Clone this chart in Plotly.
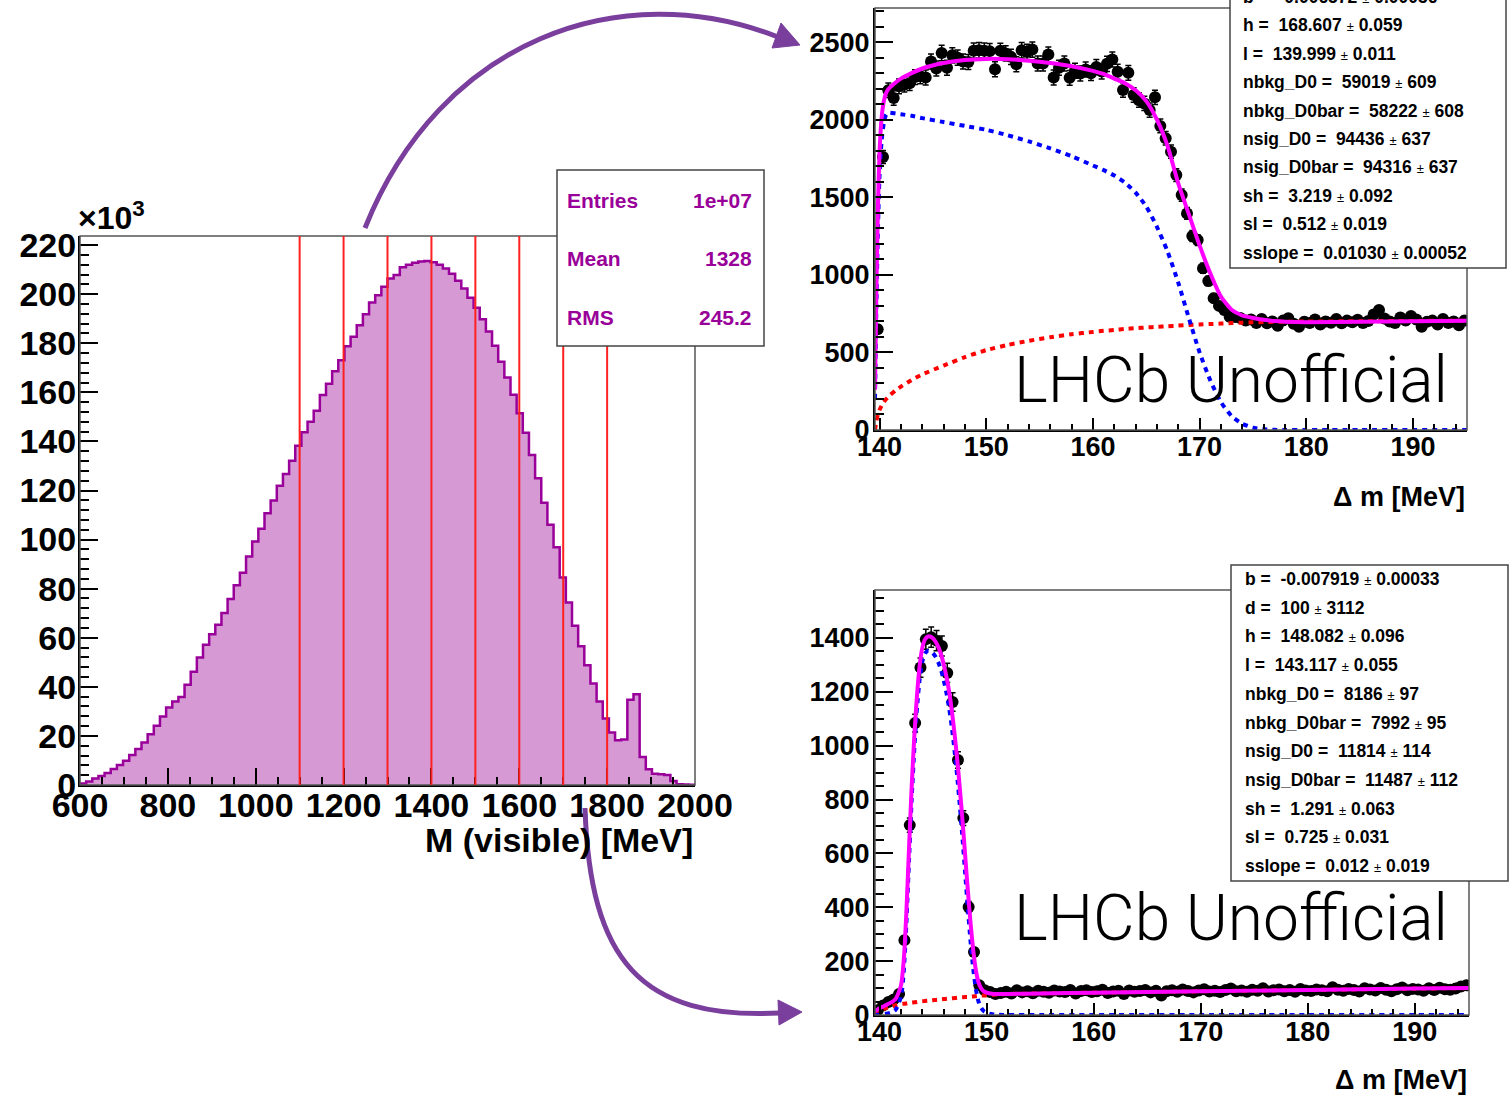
import numpy as np
import plotly.graph_objects as go

W, H = 1510, 1095
FONT = "Liberation Sans"

# ---------------- left histogram: M(visible), 100 bins of 14 MeV, counts in 10^3
m_lo, m_bin = 600, 14
m_counts = [0.6, 1.4, 2.6, 3.7, 4.9, 6.5, 8.2, 9.9, 12.2, 14.7,
            17.3, 20.7, 24.1, 27.9, 31.6, 34.0, 35.9, 40.8, 46.1, 52.0,
            57.1, 61.4, 65.3, 70.1, 75.8, 81.4, 86.5, 93.1, 99.2, 104.4,
            110.7, 115.9, 121.9, 126.7, 132.1, 138.2, 143.7, 148.0, 152.5, 158.9,
            163.5, 168.6, 173.1, 178.8, 182.6, 187.3, 191.8, 196.6, 199.6, 203.0,
            206.4, 207.8, 211.0, 212.0, 212.8, 213.3, 213.5, 213.0, 212.0, 210.5,
            208.3, 205.5, 202.3, 198.5, 194.5, 189.8, 184.8, 179.0, 172.5, 166.0,
            159.0, 151.5, 143.5, 134.5, 125.0, 115.0, 106.0, 96.9, 84.6, 74.4,
            64.9, 56.5, 48.8, 41.4, 34.0, 27.1, 21.4, 18.2, 18.5, 34.7,
            37.0, 11.4, 6.4, 4.6, 4.4, 4.1, 1.6, 0.3, 0.2, 0.1]
cut_lines = [1100, 1200, 1300, 1400, 1500, 1600, 1700, 1800]
hist_stats = [("Entries", "1e+07"), ("Mean", "1328"), ("RMS", "245.2")]

# ---------------- Delta m fits: 111 bins of 0.5 MeV from 139.57
dm_lo, dm_bin, dm_n = 139.57, 0.5, 111

top_data = [650, 1760, 2190, 2140, 2215, 2225, 2235, 2275, 2280, 2272,
            2375, 2330, 2430, 2335, 2415, 2400, 2375, 2372, 2445, 2448,
            2445, 2442, 2325, 2444, 2427, 2405, 2358, 2448, 2437, 2452,
            2362, 2362, 2420, 2272, 2335, 2362, 2270, 2315, 2298, 2324,
            2300, 2340, 2310, 2360, 2388, 2309, 2191, 2302, 2159, 2126,
            2105, 2062, 2144, 1960, 1880, 1794, 1643, 1514, 1396, 1250,
            1224, 1042, 960, 850, 800, 773, 730, 728, 722, 705,
            712, 690, 715, 688, 700, 672, 705, 720, 685, 666,
            698, 690, 712, 680, 700, 692, 715, 688, 705, 695,
            710, 690, 702, 745, 773, 718, 700, 690, 725, 705,
            735, 712, 666, 698, 705, 680, 715, 690, 700, 675, 705]

top_knots = [139.57, 139.7, 139.85, 140.0, 140.2, 140.4, 140.6, 140.8, 141.0, 141.5,
             142, 143, 144, 146, 148, 150, 152, 154, 156, 158,
             160, 161, 162, 163, 164, 165, 166, 167, 168, 169,
             170, 171, 172, 173, 174, 175, 176, 177, 178, 180,
             185, 190, 195.07]
top_total = [260, 900, 1450, 1800, 2020, 2120, 2170, 2195, 2210, 2240,
             2265, 2300, 2330, 2365, 2385, 2392, 2390, 2380, 2365, 2345,
             2315, 2295, 2265, 2235, 2190, 2120, 2000, 1830, 1590, 1390,
             1190, 1010, 860, 775, 738, 722, 710, 702, 698, 695,
             698, 701, 704]
top_sig = [200, 800, 1300, 1650, 1870, 1980, 2030, 2045, 2045, 2040,
           2035, 2025, 2010, 1985, 1960, 1935, 1900, 1860, 1815, 1765,
           1705, 1675, 1640, 1595, 1530, 1440, 1310, 1150, 950, 720,
           500, 320, 180, 90, 40, 15, 5, 1, 0, 0,
           0, 0, 0]
top_bkg = [0, 60, 100, 130, 158, 180, 198, 213, 226, 255,
           280, 322, 358, 415, 470, 515, 548, 575, 598, 617,
           632, 639, 645, 651, 656, 661, 665, 669, 673, 677,
           680, 683, 686, 689, 692, 694, 696, 697, 698, 699,
           701, 703, 705]
top_pars = [("b", "-0.006572", "0.00036"), ("h", "168.607", "0.059"),
            ("l", "139.999", "0.011"), ("nbkg_D0", "59019", "609"),
            ("nbkg_D0bar", "58222", "608"), ("nsig_D0", "94436", "637"),
            ("nsig_D0bar", "94316", "637"), ("sh", "3.219", "0.092"),
            ("sl", "0.512", "0.019"), ("sslope", "0.01030", "0.00052")]

bot_data = [18, 35, 48, 58, 78, 278, 705, 1084, 1290, 1395,
            1403, 1390, 1370, 1270, 1162, 947, 731, 401, 234, 110,
            92, 85, 78, 82, 86, 80, 92, 84, 88, 81,
            90, 86, 83, 91, 87, 85, 93, 80, 89, 92,
            85, 88, 94, 82, 87, 90, 78, 91, 86, 89,
            93, 84, 90, 72, 88, 92, 86, 95, 89, 84,
            91, 96, 87, 90, 85, 93, 98, 88, 91, 86,
            94, 90, 99, 87, 92, 95, 88, 93, 86, 97,
            91, 89, 95, 92, 88, 103, 94, 90, 97, 93,
            87, 99, 95, 91, 100, 94, 88, 96, 102, 92,
            97, 95, 90, 99, 93, 101, 96, 94, 98, 106, 110]

bot_knots = [139.57, 140, 140.5, 141, 141.5, 142, 142.25, 142.5, 142.75, 143,
             143.25, 143.5, 143.75, 144, 144.25, 144.5, 144.75, 145, 145.25, 145.5,
             145.75, 146, 146.25, 146.5, 146.75, 147, 147.25, 147.5, 147.75, 148,
             148.25, 148.5, 148.75, 149, 149.25, 149.5, 149.75, 150, 150.5, 151,
             151.5, 152, 155, 160, 170, 180, 190, 195.07]
bot_total = [15, 25, 35, 45, 60, 110, 200, 380, 620, 850,
             1040, 1190, 1300, 1365, 1395, 1405, 1405, 1398, 1385, 1365,
             1338, 1300, 1255, 1200, 1130, 1045, 950, 840, 720, 590,
             460, 340, 240, 165, 120, 98, 88, 83, 79, 78,
             78, 78, 80, 83, 88, 93, 98, 100]
bot_sig = [0, 2, 4, 8, 20, 68, 158, 337, 575, 804,
           993, 1142, 1250, 1314, 1343, 1352, 1351, 1343, 1329, 1308,
           1280, 1241, 1195, 1139, 1068, 982, 886, 775, 654, 523,
           393, 272, 171, 95, 49, 26, 14, 8, 3, 1,
           0, 0, 0, 0, 0, 0, 0, 0]
bot_bkg = [0, 14, 24, 31, 36, 41, 42, 43, 45, 46,
           47, 48, 50, 51, 52, 53, 54, 55, 56, 57,
           58, 59, 60, 61, 62, 63, 64, 65, 66, 67,
           67, 68, 69, 70, 71, 72, 72, 73, 75, 76,
           77, 78, 80, 83, 88, 93, 98, 100]
bot_pars = [("b", "-0.007919", "0.00033"), ("d", "100", "3112"),
            ("h", "148.082", "0.096"), ("l", "143.117", "0.055"),
            ("nbkg_D0", "8186", "97"), ("nbkg_D0bar", "7992", "95"),
            ("nsig_D0", "11814", "114"), ("nsig_D0bar", "11487", "112"),
            ("sh", "1.291", "0.063"), ("sl", "0.725", "0.031"),
            ("sslope", "0.012", "0.019")]


def px(x):
    return x / W


def py(y):
    return 1 - y / H


fig = go.Figure()

# histogram as a filled step line
m_edges = m_lo + m_bin * np.arange(len(m_counts) + 1)
fig.add_trace(go.Scatter(
    x=m_edges, y=m_counts + [m_counts[-1]], mode='lines', line_shape='hv',
    fill='tozeroy', fillcolor='#D699D4',
    line=dict(color='#99009A', width=2.5), xaxis='x', yaxis='y'))

dm_x = dm_lo + dm_bin / 2 + dm_bin * np.arange(dm_n)


def add_fit(data, knots, total, sig, bkg, xa, ya):
    fig.add_trace(go.Scatter(
        x=dm_x, y=data, mode='markers', xaxis=xa, yaxis=ya,
        marker=dict(color='black', size=12),
        error_y=dict(type='data', array=np.sqrt(data), color='black',
                     thickness=1.5, width=3)))
    fig.add_trace(go.Scatter(x=knots, y=bkg, mode='lines', xaxis=xa, yaxis=ya,
                             line=dict(color='#FF0000', width=4, dash='5px,5px',
                                       shape='spline', smoothing=0.6)))
    fig.add_trace(go.Scatter(x=knots, y=sig, mode='lines', xaxis=xa, yaxis=ya,
                             line=dict(color='#0000FF', width=4, dash='5px,5px',
                                       shape='spline', smoothing=0.6)))
    fig.add_trace(go.Scatter(x=knots, y=total, mode='lines', xaxis=xa, yaxis=ya,
                             line=dict(color='#FF00FF', width=4,
                                       shape='spline', smoothing=0.6)))


add_fit(top_data, top_knots, top_total, top_sig, top_bkg, 'x2', 'y2')
add_fit(bot_data, bot_knots, bot_total, bot_sig, bot_bkg, 'x3', 'y3')


def ax(size, major, minor, dtick, mdtick, standoff, **kw):
    return dict(showline=True, linecolor='black', linewidth=2, ticks='inside',
                ticklen=major, tickwidth=1.5, tickcolor='black', dtick=dtick,
                showgrid=False, zeroline=False, fixedrange=True, automargin=False,
                ticklabelstandoff=standoff,
                tickfont=dict(family=FONT, size=size, color='black', weight='bold'),
                minor=dict(dtick=mdtick, ticks='inside', ticklen=minor,
                           tickwidth=1.5, tickcolor='black', showgrid=False),
                **kw)


fig.update_layout(
    template='none',
    width=W, height=H, margin=dict(l=0, r=0, t=0, b=0, pad=0, autoexpand=False),
    paper_bgcolor='white', plot_bgcolor='white', showlegend=False,
    xaxis=ax(34, 17, 8, 200, 50, -11, range=[600, 2000], tick0=600,
             domain=[px(80), px(695)], anchor='y'),
    yaxis=ax(34, 18, 9, 20, 4, -5, range=[0, 223.7], tick0=0,
             domain=[py(785), py(236)], anchor='x'),
    xaxis2=ax(27, 12, 6, 10, 2, -8, range=[dm_lo, 195.07], tick0=140,
              domain=[px(875), px(1467)], anchor='y2'),
    yaxis2=ax(27, 18, 9, 500, 100, -2, range=[0, 2720], tick0=0,
              domain=[py(430), py(8)], anchor='x2'),
    xaxis3=ax(27, 12, 6, 10, 2, -8, range=[dm_lo, 195.07], tick0=140,
              domain=[px(875), px(1469)], anchor='y3'),
    yaxis3=ax(27, 18, 9, 200, 50, -2, range=[0, 1578], tick0=0,
              domain=[py(1015), py(590)], anchor='x3'),
)

shapes = []
# frames
for xr, yr in [('x', 'y'), ('x2', 'y2'), ('x3', 'y3')]:
    shapes.append(dict(type='rect', xref=xr + ' domain', yref=yr + ' domain',
                       x0=0, x1=1, y0=0, y1=1, line=dict(color='#555555', width=1.5)))
# cut lines on histogram
for c in cut_lines:
    shapes.append(dict(type='line', xref='x', yref='y domain', x0=c, x1=c, y0=0, y1=1,
                       line=dict(color='#FF2020', width=2)))
# stat boxes
for x0, y0, x1, y1 in [(557, 170, 764, 346), (1230, -20, 1506, 268), (1231, 565, 1508, 881)]:
    shapes.append(dict(type='rect', xref='paper', yref='paper',
                       x0=px(x0), x1=px(x1), y0=py(y1), y1=py(y0),
                       fillcolor='white', line=dict(color='#444444', width=1.5)))

# curved arrows
ARROW = '#7A3E9D'


def bez(p):
    (a, b), (c, d), (e, f), (g, h) = p
    return (f"M {px(a)},{py(b)} C {px(c)},{py(d)} {px(e)},{py(f)} {px(g)},{py(h)}")


def tri(p):
    return "M " + " L ".join(f"{px(a)},{py(b)}" for a, b in p) + " Z"


shapes.append(dict(type='path', xref='paper', yref='paper',
                   path=bez([(365, 228), (440, 40), (620, -25), (778, 37)]),
                   line=dict(color=ARROW, width=5)))
shapes.append(dict(type='path', xref='paper', yref='paper',
                   path=tri([(800, 45), (772, 48), (781, 23)]),
                   fillcolor=ARROW, line=dict(color=ARROW, width=1)))
shapes.append(dict(type='path', xref='paper', yref='paper',
                   path=bez([(585, 808), (590, 960), (640, 1020), (780, 1013)]),
                   line=dict(color=ARROW, width=5)))
shapes.append(dict(type='path', xref='paper', yref='paper',
                   path=tri([(802, 1012), (778, 1000), (779, 1025)]),
                   fillcolor=ARROW, line=dict(color=ARROW, width=1)))
fig.update_layout(shapes=shapes)

ann = []


def text(x, y, s, size, anchor='left', color='black', weight='bold', family=FONT):
    ann.append(dict(x=px(x), y=py(y), xref='paper', yref='paper', text=s,
                    showarrow=False, xanchor=anchor, yanchor='middle',
                    font=dict(family=family, size=size, color=color, weight=weight)))


text(76, 216, "×10<sup>3</sup>", 32)
text(695, 840, "M (visible) [MeV]", 34, anchor='right')
for k, (lab, val) in enumerate(hist_stats):
    text(565, 200 + 59 * k, lab, 21, color='#990099')
    text(754, 200 + 59 * k, val, 21, anchor='right', color='#990099')

PM = "<span style='font-weight:normal;font-size:13px'>±</span>"
for k, (n, v, e) in enumerate(top_pars):
    text(1241, -3 + 28.4 * k, f"{n} =  {v} {PM} {e}", 17.5)
for k, (n, v, e) in enumerate(bot_pars):
    text(1243, 579 + 28.7 * k, f"{n} =  {v} {PM} {e}", 17.5)

text(1231, 380, "LHCb Unofficial", 64, anchor='center', weight=300, family='Roboto')
text(1231, 918, "LHCb Unofficial", 64, anchor='center', weight=300, family='Roboto')
text(1467, 497, "Δ m [MeV]", 27, anchor='right')
text(1469, 1080, "Δ m [MeV]", 27, anchor='right')
fig.update_layout(annotations=ann)

# page body margin off so the figure sits at the window's top-left corner
fig.write_html("out.html", config={'displayModeBar': False},
               post_script="document.body.style.margin='0';")
